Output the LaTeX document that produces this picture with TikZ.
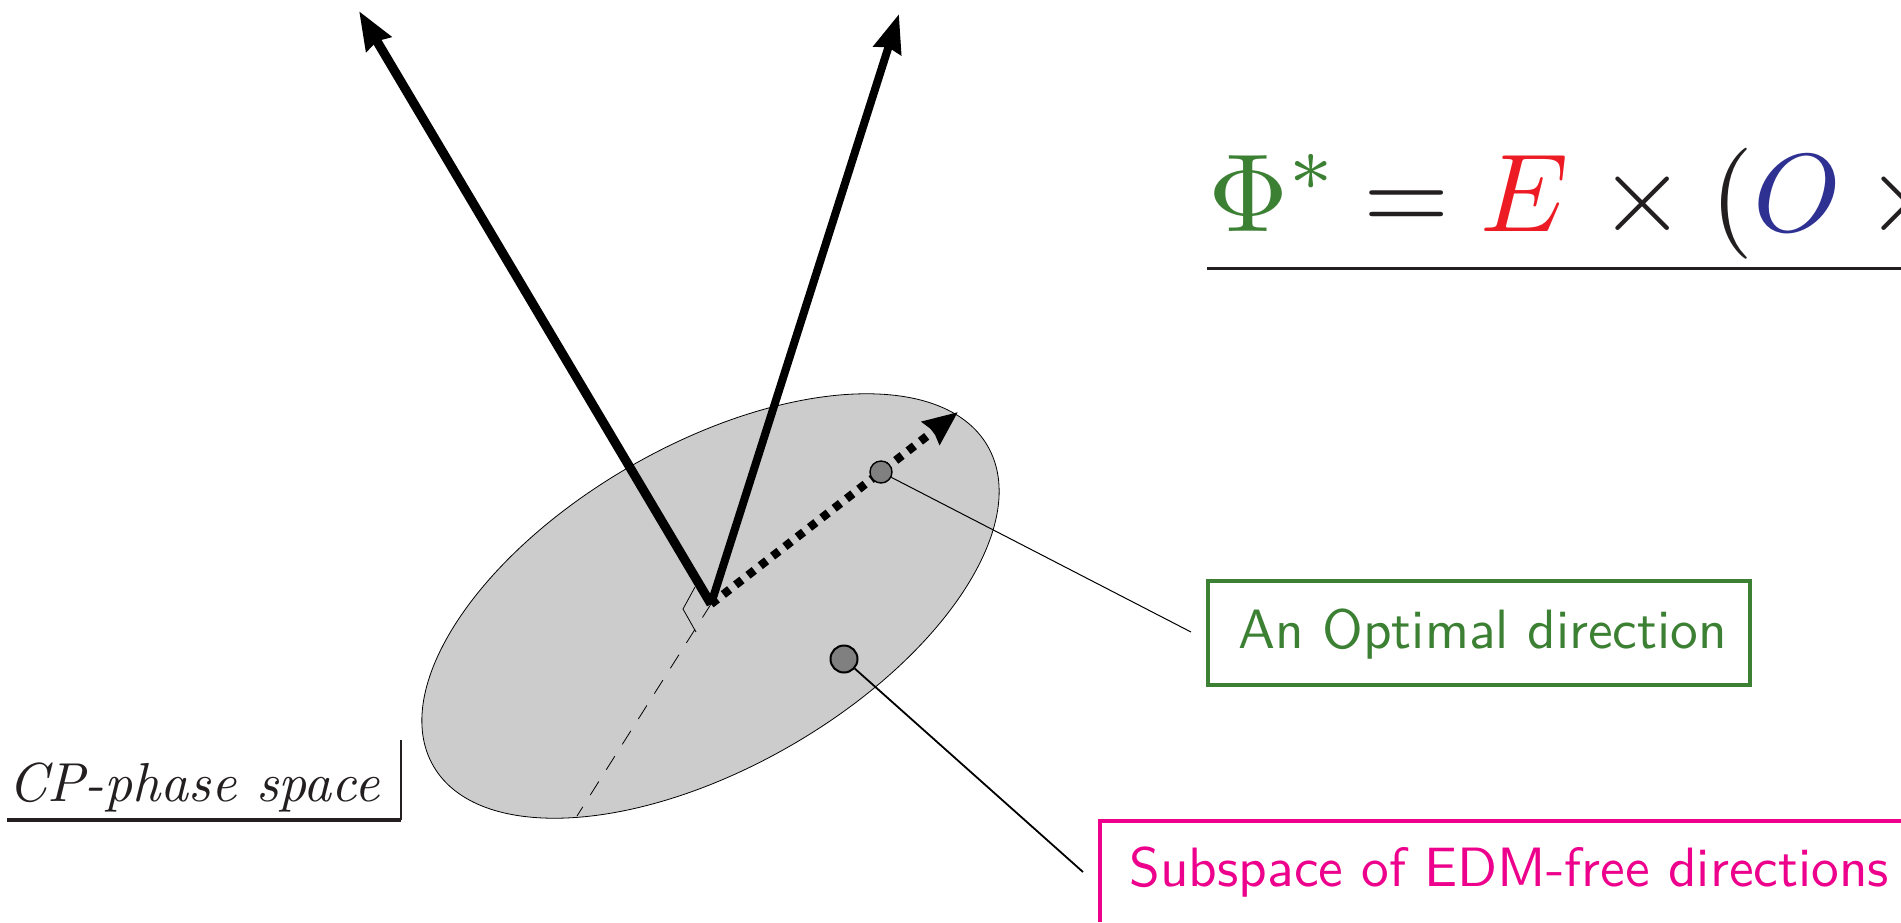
\documentclass[tikz,border=0pt]{standalone}
\usepackage{xcolor}
\usepackage{graphicx}
\usetikzlibrary{positioning,arrows.meta,shapes.geometric}
\definecolor{ink}{RGB}{35,31,32}
\definecolor{optgreen}{RGB}{60,128,51}
\definecolor{edmred}{RGB}{237,28,36}
\definecolor{edmblue}{RGB}{46,49,146}
\definecolor{freepink}{RGB}{236,0,140}
\definecolor{discgray}{gray}{0.80}
\definecolor{dotgray}{gray}{0.50}
\tikzset{
  vec/.style={-{Stealth[length=19pt,width=14pt,inset=1.5pt]}, draw=black},
  dotvec/.style={-{Stealth[length=17pt,width=14pt,inset=1.5pt]}, draw=black},
  leader/.style={draw=black},
  pin/.style={circle, draw=black, fill=dotgray, inner sep=0pt},
  tag/.style={inner sep=0pt, anchor=base west},
  frame/.style={line width=1.8pt},
}

\begin{document}
\begin{tikzpicture}[x=0.5pt, y=-0.5pt]
    \useasboundingbox (0,0) rectangle (1901,922);
    \clip (0,0) rectangle (1901,922);

    % phase space disc
    \node[ellipse, draw=black, line width=0.4pt, fill=discgray, minimum width=320pt, minimum height=161pt, inner sep=0pt, rotate=30] (disc) at (710.5,606) {};

    \coordinate (vtx) at (711,604);
    \coordinate (leftend) at (359,11);
    \coordinate (rightend) at (899,14);
    \coordinate (dotend) at (958,412);
    \coordinate (dashend) at (577,816);
    \coordinate (anga) at (695,587);
    \coordinate (angb) at (683,609);
    \coordinate (angc) at (696,632);
    \coordinate (optend) at (1191,632);
    \coordinate (subend) at (1083,872);

    \draw[line width=0.4pt, dash pattern=on 8pt off 7pt] (vtx) -- (dashend);
    \draw[line width=0.4pt] (anga) -- (angb) -- (angc);
    \draw[dotvec, line width=4.2pt, dash pattern=on 4pt off 3.8pt] (vtx) -- (dotend);
    \draw[vec, line width=4.6pt] (vtx) -- (leftend);
    \draw[vec, line width=4pt] (vtx) -- (rightend);

    \node[pin, line width=0.7pt, minimum size=11pt] (optdot) at (881,472) {};
    \node[pin, line width=1pt, minimum size=13.5pt] (subdot) at (844,659) {};
    \draw[leader, line width=0.5pt] (optdot) -- (optend);
    \draw[leader, line width=0.9pt] (subdot) -- (subend);

    \node[tag, text=optgreen] (opttag) at (1238,648) {\scalebox{2.77}{\sffamily An Optimal direction}};
    \draw[frame, draw=optgreen] (1208,581) rectangle (1750,685);

    \node[tag, text=freepink] (subtag) at (1129,886) {\scalebox{2.77}{\sffamily Subspace of EDM-free directions}};
    \coordinate (subtl) at (1100,821);
    \coordinate (subtr) at (1901,821);
    \coordinate (subbl) at (1100,922);
    \draw[frame, draw=freepink] (subbl) -- (subtl) -- (subtr);

    % formula, runs off the page
    \node[anchor=base west, inner sep=0pt, text=ink] (phi) at (1208,231)
      {\scalebox{5.55}{$\color{optgreen}\Phi^*\color{ink}\mkern-1.2mu = \color{edmred}E\mkern1mu\color{ink}\times(\color{edmblue}O\color{ink}\times{}$}};
    \coordinate (rulea) at (1207,268);
    \coordinate (ruleb) at (1901,268);
    \draw[ink, line width=1.5pt] (rulea) -- (ruleb);

    \node[anchor=base west, inner sep=0pt, text=ink] (cplab) at (8,801) {\scalebox{2.745}{\itshape CP-phase space}};
    \coordinate (cpa) at (7,820);
    \coordinate (cpb) at (401,820);
    \coordinate (cpc) at (401,740);
    \draw[ink, line width=1.8pt] (cpa) -- (cpb);
    \draw[ink, line width=0.7pt] (cpb) -- (cpc);
\end{tikzpicture}
\end{document}
